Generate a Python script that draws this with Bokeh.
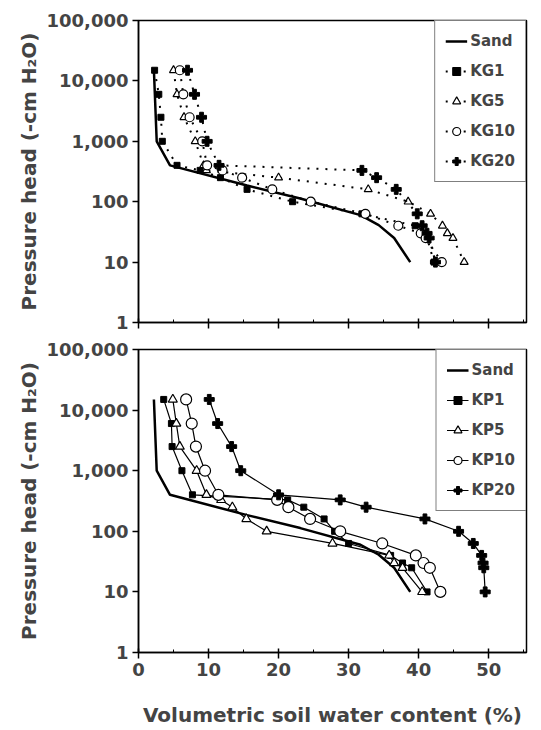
from bokeh.plotting import figure
from bokeh.layouts import column
from bokeh.models import (Range1d, FixedTicker, SingleIntervalTicker, Legend,
                          LegendItem, NumeralTickFormatter)
from bokeh.embed import file_html
from bokeh.resources import INLINE

# ---------------- data ----------------
y_ticks = [1, 10, 100, 1000, 10000, 100000]
x_ticks = [0, 10, 20, 30, 40, 50]
x_interval = 10

sand_theta = [2.2, 2.6, 4.5, 15.5, 23.1, 31.7, 34.3, 36.5, 38.8]
sand_h = [15000, 1000, 400, 185, 113, 60, 41, 25, 10]

kg_h = [15000, 6000, 2500, 1000, 400, 330, 250, 160, 100, 63, 40, 30, 25, 10]
kg1_theta = [2.3, 2.9, 3.2, 3.4, 5.5, 8.8, 11.7, 15.5, 22.0, 31.9, 39.5, 40.8, 41.2, 42.2]
kg5_theta = [5.0, 5.5, 6.5, 8.1, 9.3, 9.7, 20.0, 32.8, 38.5, 41.7, 43.4, 44.1, 44.9, 46.5]
kg10_theta = [5.9, 6.4, 7.3, 9.1, 9.8, 12.0, 14.8, 19.1, 24.6, 32.4, 37.1, 40.3, 41.0, 43.3]
kg20_h = [15000, 6000, 2500, 1000, 400, 330, 250, 160, 63, 40, 30, 25, 10]
kg20_theta = [7.0, 8.0, 9.0, 9.8, 11.5, 31.9, 34.0, 36.8, 39.8, 40.5, 41.2, 41.5, 42.4]

kp_h = [15000, 6000, 2500, 1000, 400, 330, 250, 160, 100, 63, 40, 30, 25, 10]
kp1_theta = [3.6, 4.7, 4.8, 6.2, 7.7, 21.3, 23.6, 26.5, 28.0, 30.0, 36.0, 37.7, 39.0, 41.2]
kp5_theta = [4.9, 5.4, 5.9, 8.3, 9.7, 11.8, 13.4, 15.4, 18.3, 27.7, 35.8, 36.5, 37.7, 40.5]
kp10_theta = [6.8, 7.6, 8.2, 9.5, 11.4, 19.8, 21.4, 24.5, 28.8, 34.8, 39.6, 40.7, 41.6, 43.1]
kp20_theta = [10.1, 11.3, 13.3, 14.6, 20.0, 28.8, 32.5, 40.9, 45.7, 47.8, 49.0, 49.2, 49.3, 49.5]

top_series = [("KG1", kg1_theta, kg_h, "square"), ("KG5", kg5_theta, kg_h, "triangle"),
              ("KG10", kg10_theta, kg_h, "circle"), ("KG20", kg20_theta, kg20_h, "plus")]
bot_series = [("KP1", kp1_theta, kp_h, "square"), ("KP5", kp5_theta, kp_h, "triangle"),
              ("KP10", kp10_theta, kp_h, "circle"), ("KP20", kp20_theta, kp_h, "plus")]

y_label = "Pressure head (-cm H\u2082O)"
x_label = "Volumetric soil water content (%)"

FONT = "DejaVu Sans"


def make_panel(series, dotted, frame_h, top_border, bottom_border, show_x_labels, big):
    p = figure(frame_width=388, frame_height=frame_h, y_axis_type="log",
               x_range=Range1d(0, 55.4), y_range=Range1d(1, 100000),
               output_backend="svg", toolbar_location=None,
               min_border_left=138, min_border_right=15,
               min_border_top=top_border, min_border_bottom=bottom_border)
    p.xgrid.visible = False
    p.ygrid.visible = False
    p.outline_line_color = "black"
    p.outline_line_width = 1.5
    p.outline_line_alpha = 1

    ya = p.yaxis[0]
    ya.ticker = FixedTicker(ticks=y_ticks, minor_ticks=[])
    ya.formatter = NumeralTickFormatter(format="0,0")
    ya.major_tick_out = 6
    ya.major_tick_in = 0
    ya.axis_line_width = 1.5
    ya.major_tick_line_width = 1.5
    ya.major_label_text_font = FONT
    ya.major_label_text_font_style = "bold"
    ya.major_label_text_font_size = "18px"
    ya.major_label_standoff = 4
    ya.axis_label = y_label
    ya.axis_label_text_font = FONT
    ya.axis_label_text_font_style = "bold"
    ya.axis_label_text_font_size = "20px"
    ya.axis_label_standoff = 3

    xa = p.xaxis[0]
    xa.ticker = SingleIntervalTicker(interval=x_interval, num_minor_ticks=2)
    xa.major_tick_out = 6
    xa.major_tick_in = 4
    xa.minor_tick_in = 3
    xa.minor_tick_out = 0
    xa.axis_line_width = 1.5
    xa.major_tick_line_width = 1.5
    xa.major_label_text_font = FONT
    xa.major_label_text_font_style = "bold"
    xa.major_label_text_font_size = "18px"
    if show_x_labels:
        xa.major_label_standoff = 4
        xa.axis_label = x_label
        xa.axis_label_text_font = FONT
        xa.axis_label_text_font_style = "bold"
        xa.axis_label_text_font_size = "20px"
        xa.axis_label_standoff = 24
    else:
        xa.major_label_overrides = {t: "" for t in x_ticks}
        xa.major_label_standoff = 0

    items = []
    sand_line = p.line(sand_theta, sand_h, line_color="black", line_width=2.5)
    items.append(LegendItem(label="Sand", renderers=[sand_line]))

    for name, th, hh, marker in series:
        if dotted:
            ln = p.line(th, hh, line_color="black", line_width=2, line_dash="2 7")
        else:
            ln = p.line(th, hh, line_color="black", line_width=1.2)
        if marker == "square":
            sc = p.scatter(th, hh, marker="square", size=6, fill_color="black",
                           line_color="black")
        elif marker == "plus":
            sc = p.scatter(th, hh, marker="plus", size=10, fill_color="black",
                           line_color="black")
        elif marker == "triangle":
            sc = p.scatter(th, hh, marker="triangle", size=9 if big else 8,
                           fill_color="white", line_color="black", line_width=1.2)
        else:
            sc = p.scatter(th, hh, marker="circle", size=11 if big else 9,
                           fill_color="white", line_color="black", line_width=1.2)
        items.append(LegendItem(label=name, renderers=[ln, sc]))

    legend = Legend(items=items, location="top_right", margin=0, padding=10,
                    spacing=10, glyph_height=20, glyph_width=22, label_height=20,
                    label_standoff=3, label_text_font=FONT,
                    label_text_font_style="bold", label_text_font_size="15px",
                    border_line_color="black", border_line_width=1.5,
                    background_fill_color="white", background_fill_alpha=1)
    p.add_layout(legend)
    return p


top = make_panel(top_series, True, 302, 20, 15, False, False)
bottom = make_panel(bot_series, False, 303, 12, 78, True, True)

layout = column(top, bottom, spacing=0)
open("out.html", "w").write(file_html(layout, INLINE))
